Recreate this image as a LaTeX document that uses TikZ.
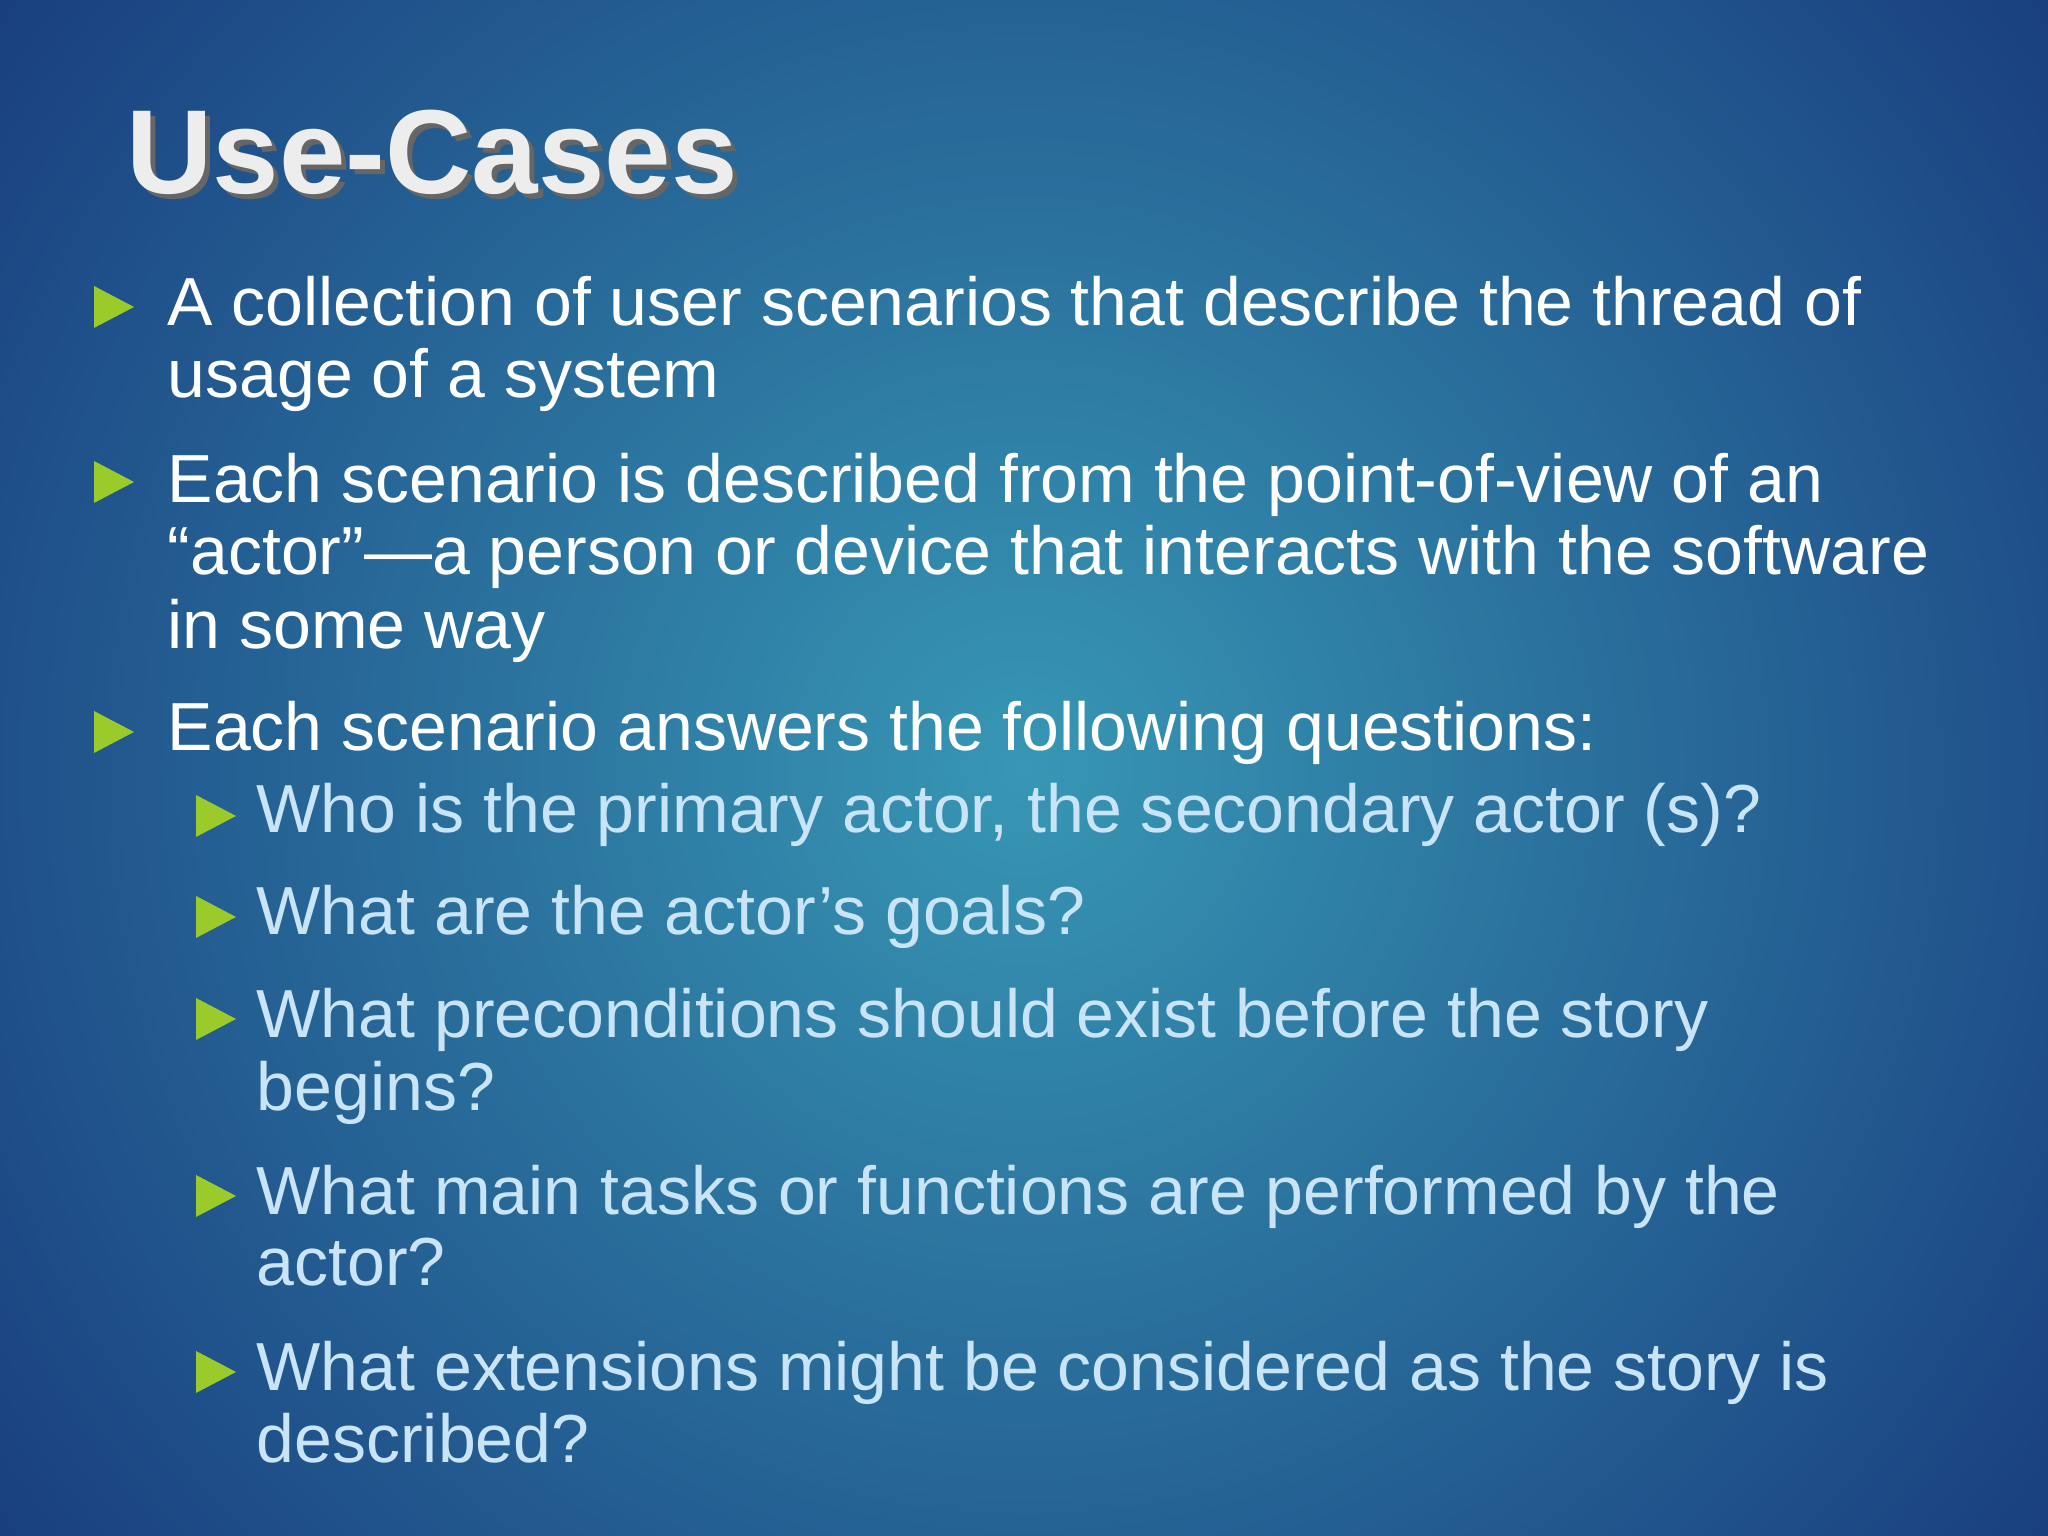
\documentclass[tikz,border=0pt]{standalone}
\usepackage{fontspec}
\setmainfont{Liberation Sans}
\definecolor{navy}{HTML}{132C74}
\definecolor{teal}{HTML}{3797B4}
\definecolor{lime}{HTML}{9BCB2A}
\definecolor{subtxt}{HTML}{C8E4F6}
\tikzset{
  line/.style={anchor=base west, inner sep=0pt, text=white, font=\fontsize{19.35}{21}\selectfont},
  subline/.style={line, text=subtxt},
  tri/.style={fill=lime, draw=none}
}
\newcommand{\tribullet}[2]{\fill[tri] (#1,#2) -- ++(0,0.42) -- ++(0.4,-0.21) -- cycle;}
\begin{document}
\begin{tikzpicture}
\useasboundingbox (0,0) rectangle (20.48,15.36);
\begin{scope}
\clip (0,0) rectangle (20.48,15.36);
\shade[inner color=teal, outer color=navy] (10.24,7.68) circle (15.5cm);
\end{scope}
\node[anchor=base west, inner sep=0pt, text=black!60, font=\bfseries\fontsize{34}{38}\selectfont] (tsh) at (1.31,13.37) {Use-Cases};
\node[anchor=base west, inner sep=0pt, text=white!93!black, font=\bfseries\fontsize{34}{38}\selectfont] (title) at (1.26,13.42) {Use-Cases};
% bullet 1
\tribullet{0.94}{12.08}
\node[line] (b1a) at (1.67,12.10) {A collection of user scenarios that describe the thread of};
\node[line] (b1b) at (1.67,11.38) {usage of a system};
% bullet 2
\tribullet{0.94}{10.33}
\node[line] (b2a) at (1.67,10.33) {Each scenario is described from the point-of-view of an};
\node[line] (b2b) at (1.67,9.61) {“actor”—a person or device that interacts with the software};
\node[line] (b2c) at (1.67,8.87) {in some way};
% bullet 3
\tribullet{0.94}{7.83}
\node[line] (b3) at (1.67,7.85) {Each scenario answers the following questions:};
% sub bullets
\tribullet{1.96}{6.99}
\node[subline] (s1) at (2.56,7.03) {Who is the primary actor, the secondary actor (s)?};
\tribullet{1.96}{5.98}
\node[subline] (s2) at (2.56,6.01) {What are the actor’s goals?};
\tribullet{1.96}{4.96}
\node[subline] (s3a) at (2.56,4.98) {What preconditions should exist before the story};
\node[subline] (s3b) at (2.56,4.25) {begins?};
\tribullet{1.96}{3.19}
\node[subline] (s4a) at (2.56,3.21) {What main tasks or functions are performed by the};
\node[subline] (s4b) at (2.56,2.50) {actor?};
\tribullet{1.96}{1.43}
\node[subline] (s5a) at (2.56,1.45) {What extensions might be considered as the story is};
\node[subline] (s5b) at (2.56,0.73) {described?};
\end{tikzpicture}
\end{document}
